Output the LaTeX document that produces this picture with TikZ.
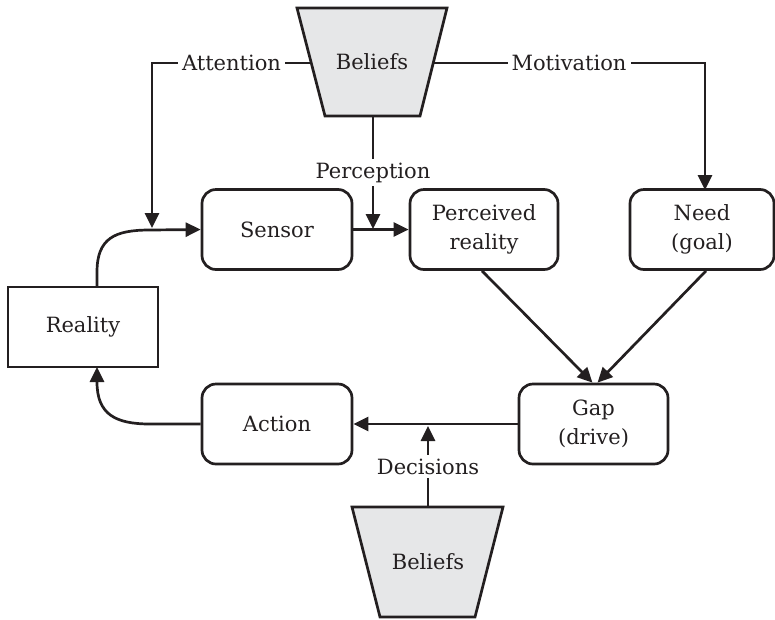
\documentclass[tikz,border=0pt]{standalone}
\usepackage{fontspec}
\setmainfont{DejaVu Serif}
\usetikzlibrary{arrows.meta}
\definecolor{beliefgray}{RGB}{230,231,232}
\definecolor{ink}{RGB}{35,31,32}
\begin{document}
\begin{tikzpicture}[x=1pt,y=-1pt,
  every node/.style={font=\fontsize{21}{29}\selectfont, text=ink},
  line/.style={draw=ink, line width=2.7pt},
  arr/.style={line, -{Triangle[length=15pt,width=14pt]}},
  roundbox/.style={line, rounded corners=14pt, minimum width=150pt, minimum height=80pt, align=center, inner sep=2pt},
  plainbox/.style={line, minimum width=150pt, minimum height=80pt, align=center},
  trap/.style={draw=ink, line width=2.7pt, fill=beliefgray, line join=miter},
  lbl/.style={fill=white, inner sep=4pt}]
\useasboundingbox (0,0) rectangle (775,619);

% belief trapezoids
\draw[trap] (297,8) -- (447,8) -- (420,116) -- (325,116) -- cycle;
\draw[trap] (352,507) -- (503,507) -- (475,617) -- (380,617) -- cycle;
\coordinate (b1left) at (311,63);
\coordinate (b1right) at (433,63);
\coordinate (b1bot) at (373,116);
\coordinate (b2top) at (428,507);

% nodes
\node (b1) at (372,62) {Beliefs};
\node (b2) at (428,562) {Beliefs};
\node[roundbox] (sensor) at (277,229.5) {Sensor};
\node[roundbox, minimum width=148pt] (perc) at (484,229.5) {Perceived\\reality};
\node[roundbox, minimum width=144pt] (need) at (702,229.5) {Need\\(goal)};
\node[plainbox] (reality) at (83,327) {Reality};
\node[roundbox] (action) at (277,424) {Action};
\node[roundbox, minimum width=149pt] (gap) at (593.5,424) {Gap\\(drive)};

% helper coordinates
\coordinate (attnEnd) at (152,228);
\coordinate (rtop) at (97,287);
\coordinate (rbot) at (97,367);
\coordinate (percEnd) at (373,229);
\coordinate (decEnd) at (428,426);
\coordinate (needTop) at (705,190);

% Attention
\draw[arr] (b1left) -| node[pos=0.25, lbl] {Attention} (attnEnd);
% Motivation
\draw[arr] (b1right) -| node[pos=0.25, lbl] {Motivation} (needTop);
% Perception
\draw[arr] (b1bot) -- node[midway, lbl] {Perception} (percEnd);
% Reality -> Sensor
\draw[arr] (rtop) -- (97,272) .. controls (97,238) and (115,230) .. (150,230) -- (sensor.west);
% Sensor -> Perceived reality
\draw[arr] (sensor.east) -- (perc.west);
% Perceived reality -> Gap, Need -> Gap
\draw[arr] ([xshift=-2pt]perc.south) -- ([xshift=-1pt]gap.north);
\draw[arr] ([xshift=4pt]need.south) -- ([xshift=4pt]gap.north);
% Gap -> Action
\draw[arr] (gap.west) -- (action.east);
% Decisions
\draw[arr] (b2top) -- node[midway, lbl] {Decisions} (decEnd);
% Action -> Reality
\draw[arr] (action.west) -- (150,424) .. controls (115,424) and (97,414) .. (97,382) -- (rbot);
\end{tikzpicture}
\end{document}
